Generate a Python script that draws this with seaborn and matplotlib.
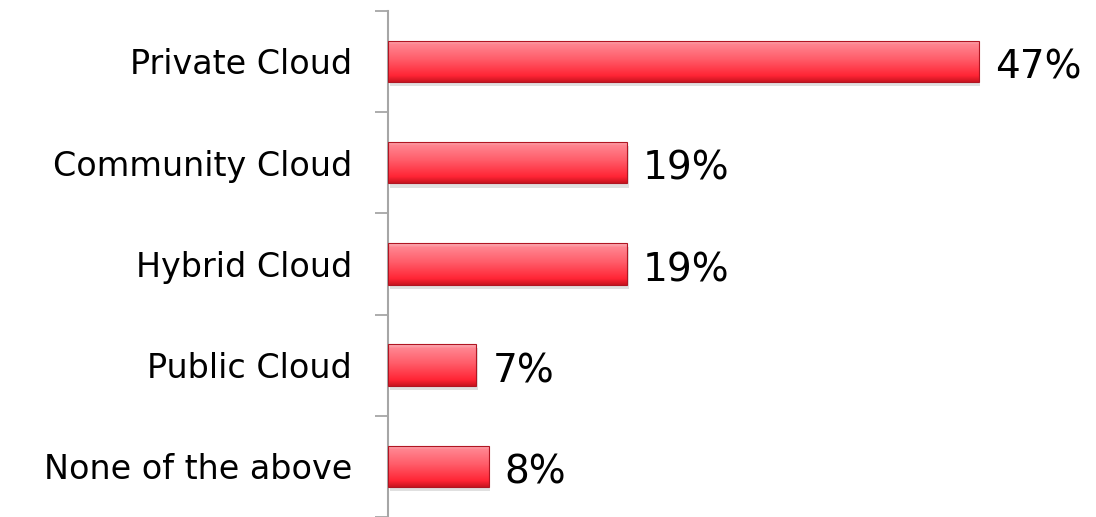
import numpy as np
import pandas as pd
import matplotlib
matplotlib.use("Agg")
import matplotlib.pyplot as plt
import seaborn as sns
from matplotlib.colors import LinearSegmentedColormap
from matplotlib.ticker import FixedLocator

categories = ["Private Cloud", "Community Cloud", "Hybrid Cloud", "Public Cloud", "None of the above"]
values = [47, 19, 19, 7, 8]
value_labels = ["47%", "19%", "19%", "7%", "8%"]

df = pd.DataFrame({"category": categories, "value": values})

sns.set_style("white")
plt.rcParams["font.family"] = ["DejaVu Sans"]

fig = plt.figure(figsize=(10.96, 5.17), dpi=100)
ax = fig.add_axes([0.354, 0.0, 0.642, 0.979])

sns.barplot(data=df, x="value", y="category", orient="h", color="#ff3344",
            width=0.41, edgecolor="#b01522", linewidth=0.8, ax=ax)

ax.set_xlim(0, 56)
ax.set_ylim(len(categories) - 0.5, -0.5)

# glossy gradient on each bar
glossy = LinearSegmentedColormap.from_list(
    "gloss", [(0.0, "#fbb8be"), (0.1, "#ff8590"), (0.45, "#ff5d6a"),
              (0.85, "#ff2535"), (1.0, "#c8141f")])
grad = np.linspace(0, 1, 256).reshape(-1, 1)
for p in list(ax.patches):
    x0, y0 = p.get_x(), p.get_y()
    w, h = p.get_width(), p.get_height()
    # soft shadow
    ax.add_patch(plt.Rectangle((x0 + 0.15, y0 + 0.04), w, h, facecolor="#000000",
                               alpha=0.12, edgecolor="none", zorder=1))
    im = ax.imshow(grad, cmap=glossy, aspect="auto",
                   extent=(x0, x0 + w, y0 + h, y0), zorder=2)
    im.set_clip_path(p)
    p.set_zorder(3)
    p.set_facecolor("none")

for i, lbl in enumerate(value_labels):
    ax.text(values[i] + 1.3, i + 0.06, lbl, va="center", ha="left", fontsize=28, color="#000000")

ax.set_xlabel("")
ax.set_ylabel("")
ax.set_xticks([])
ax.tick_params(axis="y", which="major", length=0, pad=26, labelsize=24, labelcolor="#000000")
ax.yaxis.set_minor_locator(FixedLocator(np.arange(-0.5, len(categories), 1.0)))
ax.tick_params(axis="y", which="minor", left=True, length=9.4, width=1.3,
               color="#a6a6a6", direction="out")

for s in ["top", "right", "bottom"]:
    ax.spines[s].set_visible(False)
ax.spines["left"].set_color("#a6a6a6")
ax.spines["left"].set_linewidth(1.5)

fig.savefig("out.png", dpi=100, facecolor="white")
